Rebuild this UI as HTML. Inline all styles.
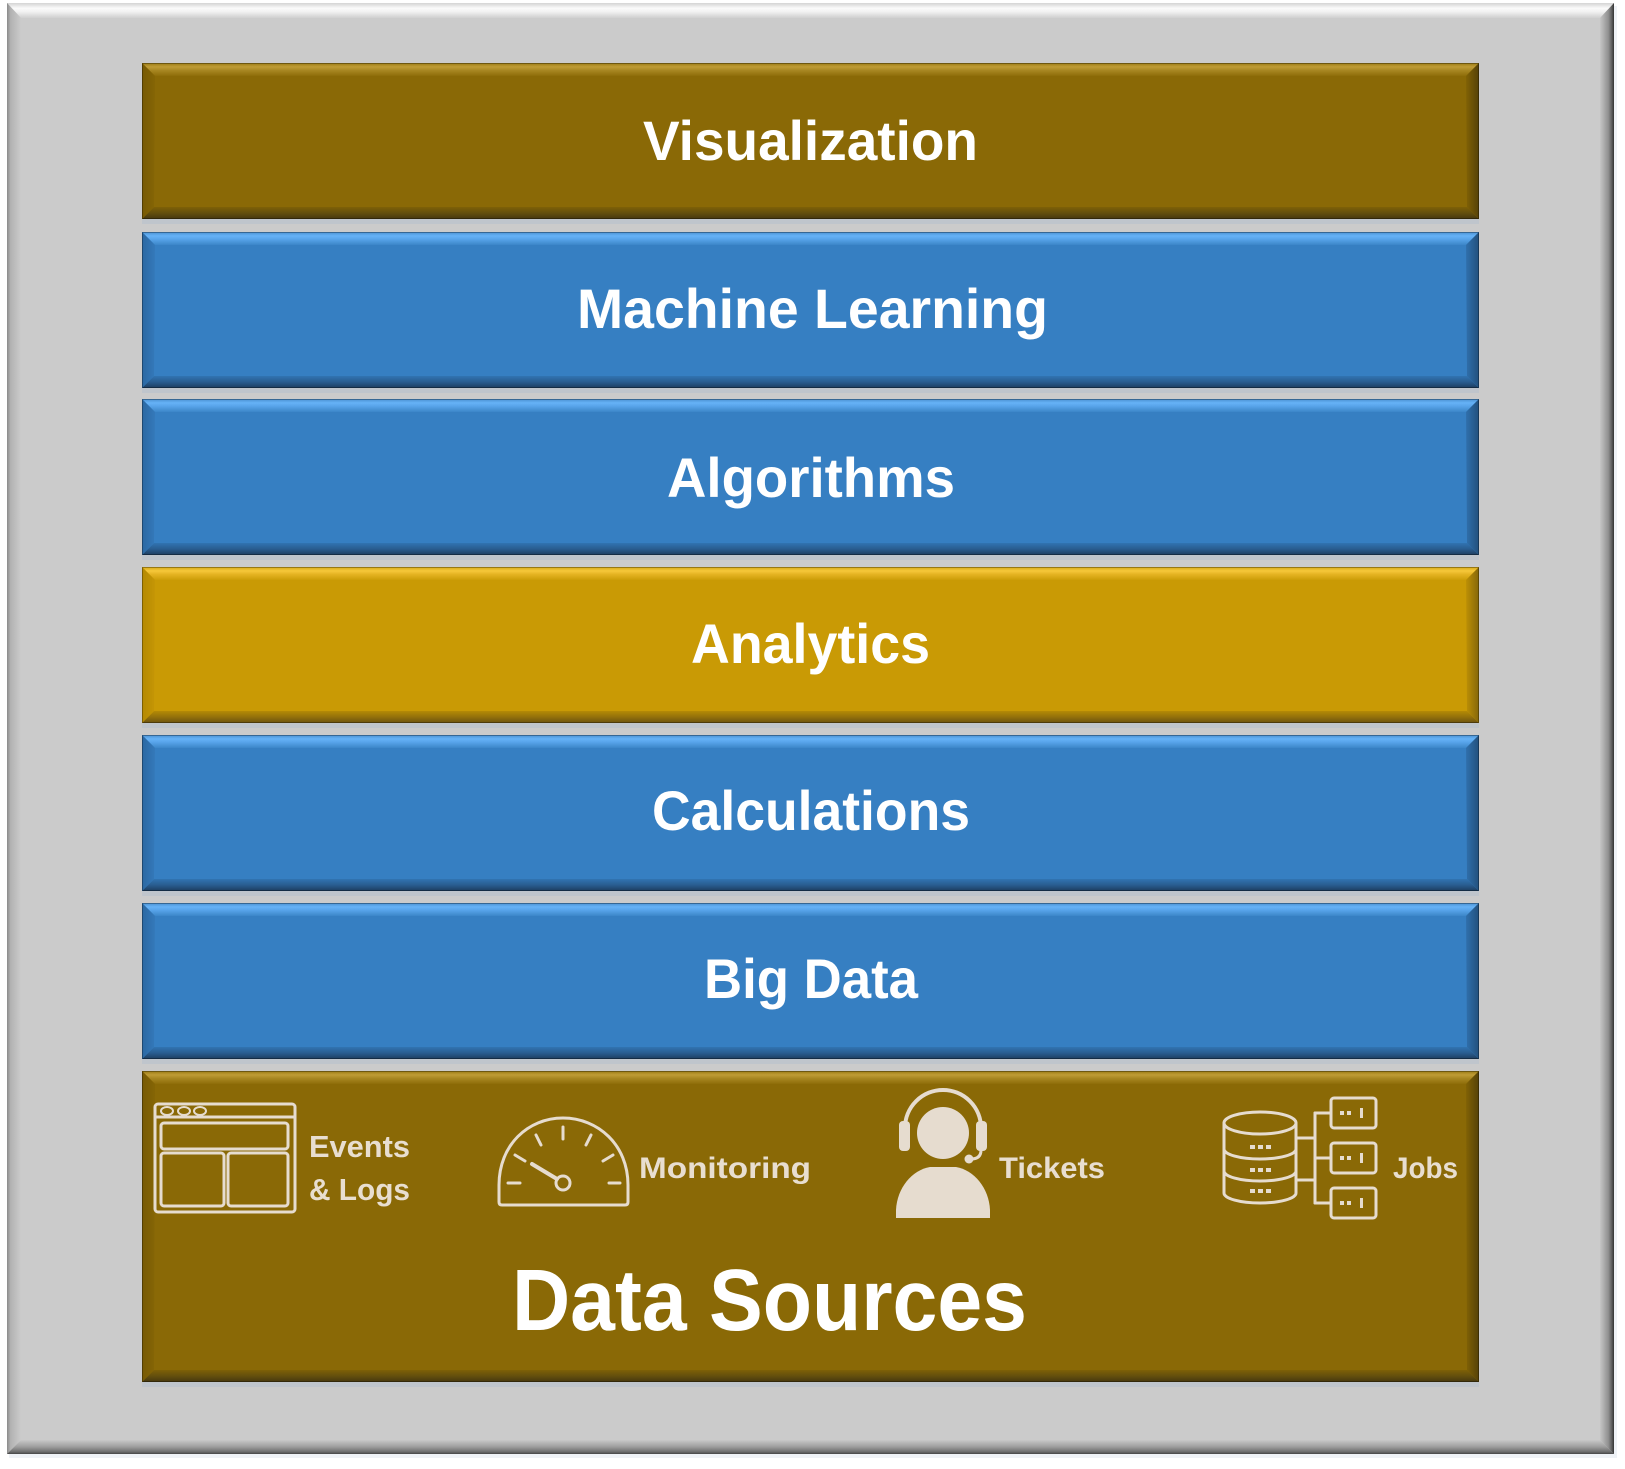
<!DOCTYPE html>
<html>
<head>
<meta charset="utf-8">
<style>
  html,body{margin:0;padding:0;background:#ffffff;}
  svg{display:block;}
  .t{font-family:"Liberation Sans",Arial,sans-serif;font-weight:bold;fill:#ffffff;}
  .l{font-family:"Liberation Sans",Arial,sans-serif;font-weight:bold;fill:#e8ded0;}
</style>
</head>
<body>
<svg width="1625" height="1469" viewBox="0 0 1625 1469" xmlns="http://www.w3.org/2000/svg">
  <defs>
    <linearGradient id="fTop" x1="0" y1="0" x2="0" y2="1">
      <stop offset="0" stop-color="#d4d4d4"/>
      <stop offset="0.35" stop-color="#fbfbfb"/>
      <stop offset="0.6" stop-color="#f0f0f0"/>
      <stop offset="1" stop-color="#cfcfcf"/>
    </linearGradient>
    <linearGradient id="fLeft" x1="0" y1="0" x2="1" y2="0">
      <stop offset="0" stop-color="#8a8a8a"/>
      <stop offset="0.25" stop-color="#b2b2b2"/>
      <stop offset="1" stop-color="#cbcbcb"/>
    </linearGradient>
    <linearGradient id="fRight" x1="0" y1="0" x2="1" y2="0">
      <stop offset="0" stop-color="#c6c6c6"/>
      <stop offset="0.6" stop-color="#909090"/>
      <stop offset="0.85" stop-color="#5c5c5c"/>
      <stop offset="1" stop-color="#333333"/>
    </linearGradient>
    <linearGradient id="fBot" x1="0" y1="0" x2="0" y2="1">
      <stop offset="0" stop-color="#c8c8c8"/>
      <stop offset="0.5" stop-color="#9c9c9c"/>
      <stop offset="0.85" stop-color="#6c6c6c"/>
      <stop offset="1" stop-color="#454545"/>
    </linearGradient>

    <linearGradient id="bT" x1="0" y1="0" x2="0" y2="1">
      <stop offset="0" stop-color="#4a90d0"/>
      <stop offset="0.3" stop-color="#66b2f7"/>
      <stop offset="0.55" stop-color="#58a4ea"/>
      <stop offset="1" stop-color="#3c86c8"/>
    </linearGradient>
    <linearGradient id="bB" x1="0" y1="0" x2="0" y2="1">
      <stop offset="0" stop-color="#3174b2"/>
      <stop offset="0.5" stop-color="#295d90"/>
      <stop offset="1" stop-color="#1d3d5f"/>
    </linearGradient>
    <linearGradient id="bL" x1="0" y1="0" x2="1" y2="0">
      <stop offset="0" stop-color="#2b68a2"/>
      <stop offset="1" stop-color="#3479ba"/>
    </linearGradient>
    <linearGradient id="bR" x1="0" y1="0" x2="1" y2="0">
      <stop offset="0" stop-color="#3070ad"/>
      <stop offset="1" stop-color="#22507c"/>
    </linearGradient>

    <linearGradient id="nT" x1="0" y1="0" x2="0" y2="1">
      <stop offset="0" stop-color="#9a7914"/>
      <stop offset="0.3" stop-color="#bf9c36"/>
      <stop offset="0.55" stop-color="#a98823"/>
      <stop offset="1" stop-color="#8e6d09"/>
    </linearGradient>
    <linearGradient id="nB" x1="0" y1="0" x2="0" y2="1">
      <stop offset="0" stop-color="#7e6006"/>
      <stop offset="0.5" stop-color="#644f0d"/>
      <stop offset="1" stop-color="#46370f"/>
    </linearGradient>
    <linearGradient id="nL" x1="0" y1="0" x2="1" y2="0">
      <stop offset="0" stop-color="#775a04"/>
      <stop offset="1" stop-color="#856505"/>
    </linearGradient>
    <linearGradient id="nR" x1="0" y1="0" x2="1" y2="0">
      <stop offset="0" stop-color="#816205"/>
      <stop offset="1" stop-color="#554108"/>
    </linearGradient>

    <linearGradient id="gT" x1="0" y1="0" x2="0" y2="1">
      <stop offset="0" stop-color="#d6a816"/>
      <stop offset="0.3" stop-color="#f6c83a"/>
      <stop offset="0.55" stop-color="#e6b423"/>
      <stop offset="1" stop-color="#cc9d08"/>
    </linearGradient>
    <linearGradient id="gB" x1="0" y1="0" x2="0" y2="1">
      <stop offset="0" stop-color="#b58a05"/>
      <stop offset="0.5" stop-color="#93710a"/>
      <stop offset="1" stop-color="#6b5310"/>
    </linearGradient>
    <linearGradient id="gL" x1="0" y1="0" x2="1" y2="0">
      <stop offset="0" stop-color="#b48903"/>
      <stop offset="1" stop-color="#c59605"/>
    </linearGradient>
    <linearGradient id="gR" x1="0" y1="0" x2="1" y2="0">
      <stop offset="0" stop-color="#bd9005"/>
      <stop offset="1" stop-color="#84660a"/>
    </linearGradient>

    <g id="blueBar">
      <rect x="0" y="156" width="1337" height="5" fill="#b9c2cc" opacity="0.7"/>
      <rect x="0" y="0" width="1337" height="156" fill="#367fc2"/>
      <polygon points="0,0 1337,0 1324,13 13,13" fill="url(#bT)"/>
      <polygon points="0,156 1337,156 1325,144 12,144" fill="url(#bB)"/>
      <polygon points="0,0 13,13 12,144 0,156" fill="url(#bL)"/>
      <polygon points="1337,0 1324,13 1325,144 1337,156" fill="url(#bR)"/>
      <rect x="0.5" y="0.5" width="1336" height="155" fill="none" stroke="#000" stroke-opacity="0.3" stroke-width="1"/>
    </g>
    <g id="brownBar">
      <rect x="0" y="156" width="1337" height="5" fill="#b9c2cc" opacity="0.7"/>
      <rect x="0" y="0" width="1337" height="156" fill="#8a6906"/>
      <polygon points="0,0 1337,0 1324,13 13,13" fill="url(#nT)"/>
      <polygon points="0,156 1337,156 1325,144 12,144" fill="url(#nB)"/>
      <polygon points="0,0 13,13 12,144 0,156" fill="url(#nL)"/>
      <polygon points="1337,0 1324,13 1325,144 1337,156" fill="url(#nR)"/>
      <rect x="0.5" y="0.5" width="1336" height="155" fill="none" stroke="#000" stroke-opacity="0.3" stroke-width="1"/>
    </g>
    <g id="goldBar">
      <rect x="0" y="156" width="1337" height="5" fill="#b9c2cc" opacity="0.7"/>
      <rect x="0" y="0" width="1337" height="156" fill="#c99a05"/>
      <polygon points="0,0 1337,0 1324,13 13,13" fill="url(#gT)"/>
      <polygon points="0,156 1337,156 1325,144 12,144" fill="url(#gB)"/>
      <polygon points="0,0 13,13 12,144 0,156" fill="url(#gL)"/>
      <polygon points="1337,0 1324,13 1325,144 1337,156" fill="url(#gR)"/>
      <rect x="0.5" y="0.5" width="1336" height="155" fill="none" stroke="#000" stroke-opacity="0.3" stroke-width="1"/>
    </g>
    <g id="brownTall">
      <rect x="0" y="311" width="1337" height="5" fill="#b9c2cc" opacity="0.7"/>
      <rect x="0" y="0" width="1337" height="311" fill="#8a6906"/>
      <polygon points="0,0 1337,0 1324,13 13,13" fill="url(#nT)"/>
      <polygon points="0,311 1337,311 1325,299 12,299" fill="url(#nB)"/>
      <polygon points="0,0 13,13 12,299 0,311" fill="url(#nL)"/>
      <polygon points="1337,0 1324,13 1325,299 1337,311" fill="url(#nR)"/>
      <rect x="0.5" y="0.5" width="1336" height="310" fill="none" stroke="#000" stroke-opacity="0.3" stroke-width="1"/>
    </g>
  </defs>

  <rect x="9" y="6" width="1608" height="1452" fill="#dfe6ee" opacity="0.5"/>
  <rect x="7" y="3" width="1607" height="1451" fill="#cbcbcb"/>
  <polygon points="7,3 1614,3 1600,18 21,18" fill="url(#fTop)"/>
  <polygon points="7,3 21,18 21,1440 7,1454" fill="url(#fLeft)"/>
  <polygon points="1614,3 1600,18 1600,1440 1614,1454" fill="url(#fRight)"/>
  <polygon points="7,1454 1614,1454 1600,1440 21,1440" fill="url(#fBot)"/>

  <use href="#brownBar" transform="translate(142,63)"/>
  <use href="#blueBar" transform="translate(142,232)"/>
  <use href="#blueBar" transform="translate(142,399)"/>
  <use href="#goldBar" transform="translate(142,567)"/>
  <use href="#blueBar" transform="translate(142,735)"/>
  <use href="#blueBar" transform="translate(142,903)"/>
  <use href="#brownTall" transform="translate(142,1071)"/>

  <text class="t" x="643" y="160" font-size="56" textLength="335" lengthAdjust="spacingAndGlyphs">Visualization</text>
  <text class="t" x="577" y="328" font-size="56" textLength="471" lengthAdjust="spacingAndGlyphs">Machine Learning</text>
  <text class="t" x="667" y="497" font-size="56" textLength="288" lengthAdjust="spacingAndGlyphs">Algorithms</text>
  <text class="t" x="691" y="663" font-size="56" textLength="239" lengthAdjust="spacingAndGlyphs">Analytics</text>
  <text class="t" x="652" y="830" font-size="56" textLength="318" lengthAdjust="spacingAndGlyphs">Calculations</text>
  <text class="t" x="704" y="998" font-size="56" textLength="214" lengthAdjust="spacingAndGlyphs">Big Data</text>
  <text class="t" x="512" y="1330" font-size="87" textLength="515" lengthAdjust="spacingAndGlyphs">Data Sources</text>

  <g fill="none" stroke="#e6dccf" stroke-width="3" stroke-linejoin="round" stroke-linecap="round">
    <rect x="155" y="1104" width="140" height="108" rx="3"/>
    <line x1="155" y1="1117" x2="295" y2="1117"/>
    <ellipse cx="167" cy="1111" rx="6" ry="4" stroke-width="2"/>
    <ellipse cx="184" cy="1111" rx="6" ry="4" stroke-width="2"/>
    <ellipse cx="200" cy="1111" rx="6" ry="4" stroke-width="2"/>
    <rect x="161" y="1123" width="127" height="26" rx="3"/>
    <rect x="161" y="1153" width="63" height="53" rx="3"/>
    <rect x="228" y="1153" width="60" height="53" rx="3"/>

    <path d="M 499 1202 L 499 1185 C 499 1145 528 1118 563 1118 C 598 1118 628 1145 628 1185 L 628 1202 Q 628 1205 625 1205 L 502 1205 Q 499 1205 499 1202 Z"/>
    <circle cx="563" cy="1183" r="7"/>
    <line x1="557" y1="1179" x2="532" y2="1164" stroke-width="4"/>
    <line x1="508" y1="1183" x2="520" y2="1183"/>
    <line x1="609" y1="1183" x2="620" y2="1183"/>
    <line x1="563" y1="1127" x2="563" y2="1139"/>
    <line x1="536" y1="1135" x2="541" y2="1145"/>
    <line x1="591" y1="1135" x2="586" y2="1145"/>
    <line x1="515" y1="1155" x2="525" y2="1161"/>
    <line x1="613" y1="1155" x2="603" y2="1161"/>

    <path d="M 905 1128 A 38 38 0 0 1 981 1128" stroke-width="4"/>
    <path d="M 981 1150 Q 981 1159 971 1159" stroke-width="3"/>

    <ellipse cx="1260" cy="1123" rx="36" ry="11"/>
    <path d="M 1224 1123 L 1224 1193 A 36 10 0 0 0 1296 1193 L 1296 1123"/>
    <path d="M 1224 1149 A 36 10 0 0 0 1296 1149"/>
    <path d="M 1224 1171 A 36 10 0 0 0 1296 1171"/>

    <line x1="1315" y1="1113" x2="1315" y2="1203"/>
    <line x1="1315" y1="1113" x2="1331" y2="1113"/>
    <line x1="1315" y1="1158" x2="1331" y2="1158"/>
    <line x1="1315" y1="1203" x2="1331" y2="1203"/>
    <line x1="1297" y1="1138" x2="1315" y2="1138"/>
    <line x1="1297" y1="1180" x2="1315" y2="1180"/>
    <rect x="1331" y="1098" width="45" height="30" rx="3"/>
    <rect x="1331" y="1143" width="45" height="30" rx="3"/>
    <rect x="1331" y="1188" width="45" height="30" rx="3"/>
  </g>

  <g fill="#e6dccf">
    <circle cx="943" cy="1133" r="26"/>
    <rect x="899" y="1121" width="11" height="30" rx="4"/>
    <rect x="976" y="1121" width="11" height="30" rx="4"/>
    <circle cx="969" cy="1159" r="4.5"/>
    <path d="M 896 1218 L 896 1210 C 897 1188 912 1170 930 1167 L 956 1167 C 974 1170 989 1188 990 1210 L 990 1218 Z"/>

    <rect x="1250" y="1145" width="5" height="4"/><rect x="1258" y="1145" width="5" height="4"/><rect x="1266" y="1145" width="5" height="4"/>
    <rect x="1250" y="1168" width="5" height="4"/><rect x="1258" y="1168" width="5" height="4"/><rect x="1266" y="1168" width="5" height="4"/>
    <rect x="1250" y="1189" width="5" height="4"/><rect x="1258" y="1189" width="5" height="4"/><rect x="1266" y="1189" width="5" height="4"/>

    <rect x="1340" y="1111" width="4" height="4"/><rect x="1347" y="1111" width="4" height="4"/><rect x="1360" y="1108" width="3" height="10"/>
    <rect x="1340" y="1156" width="4" height="4"/><rect x="1347" y="1156" width="4" height="4"/><rect x="1360" y="1153" width="3" height="10"/>
    <rect x="1340" y="1201" width="4" height="4"/><rect x="1347" y="1201" width="4" height="4"/><rect x="1360" y="1198" width="3" height="10"/>
  </g>

  <text class="l" x="309" y="1157" font-size="31" textLength="101" lengthAdjust="spacingAndGlyphs">Events</text>
  <text class="l" x="309" y="1200" font-size="31" textLength="101" lengthAdjust="spacingAndGlyphs">&amp; Logs</text>
  <text class="l" x="639" y="1178" font-size="30" textLength="172" lengthAdjust="spacingAndGlyphs">Monitoring</text>
  <text class="l" x="999" y="1178" font-size="30" textLength="106" lengthAdjust="spacingAndGlyphs">Tickets</text>
  <text class="l" x="1393" y="1178" font-size="30" textLength="65" lengthAdjust="spacingAndGlyphs">Jobs</text>
</svg>
</body>
</html>
